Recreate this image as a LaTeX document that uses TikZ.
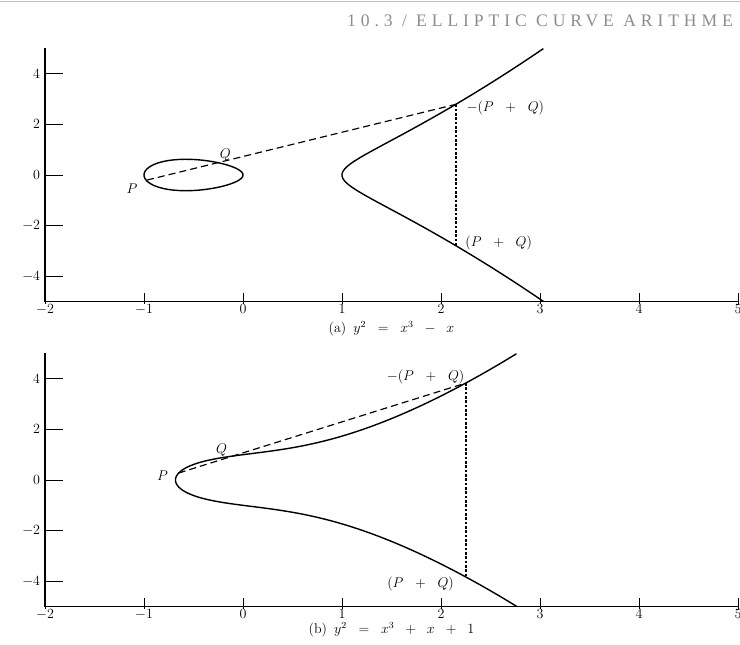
\documentclass[tikz,border=0pt]{standalone}
\usepackage{fontspec}
\usepackage{amsmath}
\usetikzlibrary{positioning}
\newfontfamily\headfont[LetterSpace=28]{Liberation Serif}

\begin{document}
\begin{tikzpicture}[
  curve/.style={line width=1.2pt},
  axis/.style={line width=0.9pt},
  tick/.style={line width=0.8pt},
  chord/.style={line width=1pt, dash pattern=on 6pt off 3.5pt},
  vline/.style={line width=1.4pt, dash pattern=on 2.2pt off 1.5pt},
  ticklabel/.style={font=\fontsize{11.5}{13}\selectfont, inner sep=2pt},
  ptlabel/.style={font=\fontsize{13}{15}\selectfont, inner sep=2pt},
  caption/.style={font=\fontsize{12}{14}\selectfont}
]
  \useasboundingbox (0,0) rectangle (22.2,-19.35);

  % running head
  \draw[black!25, line width=0.6pt] (0,-0.05) -- (22.2,-0.05);
  \node[anchor=base west, text=black!45, inner sep=0pt,
        font=\headfont\fontsize{15}{17}\selectfont]
    (head) at (10.41,-0.8) {10.3 / ELLIPTIC CURVE ARITHME};

  % axes of both panels
  \foreach \p/\oy in {a/-5.25, b/-14.4} {
    \begin{scope}[shift={(7.29cm,\oy cm)}, x=2.97cm, y=0.76cm]
      \draw[axis] (-2,5) -- (-2,-5) -- (5,-5);
      \foreach \i [count=\k] in {-2,...,5} {
        \draw[tick] (\i,-5.08) -- (\i,-4.66);
        \node[ticklabel, below] (\p x\k) at (\i,-5) {$\i$};
      }
      \foreach \j [count=\k] in {-4,-2,...,4} {
        \draw[tick] (-2,\j) -- (-1.82,\j);
        \node[ticklabel, left=2pt] (\p y\k) at (-2,\j) {$\j$};
      }
    \end{scope}
  }

  % (a) y^2 = x^3 - x
  \begin{scope}[shift={(7.29cm,-5.25cm)}, x=2.97cm, y=0.76cm]
    \draw[curve] plot[domain=-1.427:1.427, samples=90, smooth, variable=\t]
      ({1+\t*\t}, {\t*sqrt((1+\t*\t)*(2+\t*\t))});
    \draw[curve] plot[domain=0:355, samples=72, smooth cycle, variable=\s]
      ({(cos(\s)-1)/2}, {sin(\s)*sqrt((3-cos(\s))/8)});

    \coordinate (Pa) at (-0.97,-0.2);
    \coordinate (Qa) at (-0.25,0.49);
    \coordinate (Ra) at (2.15,2.79);
    \coordinate (Sa) at (2.15,-2.79);
    \draw[chord] (Pa) -- (Ra);
    \draw[vline] (Ra) -- (Sa);

    \node[ptlabel, below left=1pt and 6pt of Pa] (labPa) {$P$};
    \node[ptlabel, above=-1pt of Qa, xshift=6pt] (labQa) {$Q$};
    \node[ptlabel, right=7pt of Ra, yshift=-3pt] (labRa) {$-(P \mkern11mu + \mkern11mu Q)$};
    \node[ptlabel, right=6pt of Sa, yshift=2pt] (labSa) {$(P \mkern11mu + \mkern11mu Q)$};

    \node[caption] (capa) at (1.5,-6.08) {(a)\enspace$y^2 \mkern10mu = \mkern10mu x^3 \mkern10mu - \mkern10mu x$};
  \end{scope}

  % (b) y^2 = x^3 + x + 1
  \begin{scope}[shift={(7.29cm,-14.4cm)}, x=2.97cm, y=0.76cm]
    \draw[curve] plot[domain=-1.857:1.857, samples=90, smooth, variable=\t]
      ({-0.6823+\t*\t}, {\t*sqrt(\t*\t*\t*\t-2.0469*\t*\t+2.3966)});

    \coordinate (Pb) at (-0.65,0.275);
    \coordinate (Qb) at (-0.1006,0.948);
    \coordinate (Rb) at (2.25,3.826);
    \coordinate (Sb) at (2.25,-3.826);
    \draw[chord] (Pb) -- (Rb);
    \draw[vline] (Rb) -- (Sb);

    \node[ptlabel, left=7pt of Pb, yshift=-2pt] (labPb) {$P$};
    \node[ptlabel, above left=-2pt and 3pt of Qb] (labQb) {$Q$};
    \node[ptlabel, above left=-3pt and -1pt of Rb] (labRb) {$-(P \mkern11mu + \mkern11mu Q)$};
    \node[ptlabel, below left=-2pt and 8pt of Sb] (labSb) {$(P \mkern11mu + \mkern11mu Q)$};

    \node[caption] (capb) at (1.5,-5.92) {(b)\enspace$y^2 \mkern10mu = \mkern10mu x^3 \mkern10mu + \mkern10mu x \mkern10mu + \mkern10mu 1$};
  \end{scope}
\end{tikzpicture}
\end{document}
